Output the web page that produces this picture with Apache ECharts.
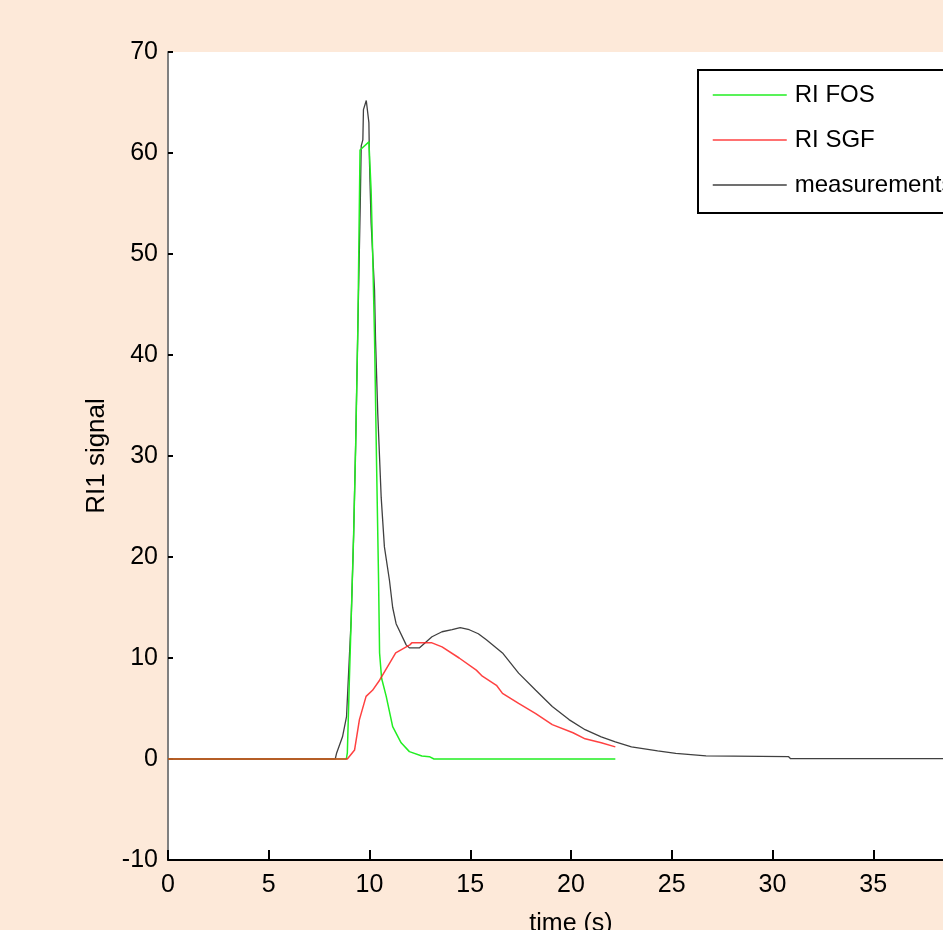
<!DOCTYPE html>
<html>
<head>
<meta charset="utf-8">
<script src="https://cdn.jsdelivr.net/npm/echarts@6/dist/echarts.min.js"></script>
<style>
  html, body { margin: 0; padding: 0; background: #fde9d9; }
  #chart { width: 943px; height: 930px; }
</style>
</head>
<body>
<div id="chart"></div>
<script>
// values
const xTicks = [0, 5, 10, 15, 20, 25, 30, 35, 40];
const yTicks = [-10, 0, 10, 20, 30, 40, 50, 60, 70];

const measTime = [0, 8.3, 8.37, 8.66, 8.86, 9.0, 9.09, 9.21, 9.31, 9.42, 9.54, 9.59, 9.67, 9.7, 9.84, 9.97, 10.0, 10.08, 10.25, 10.3, 10.41, 10.58, 10.74, 10.99, 11.15, 11.32, 11.82, 11.98, 12.47, 13.1, 13.6, 14.1, 14.5, 14.95, 15.4, 15.8, 16.6, 17.4, 18.25, 19.07, 19.9, 20.7, 21.5, 22.2, 23.0, 24.3, 25.2, 26.7, 30.8, 30.9, 38.5];
const measSignal = [0, 0, 0.6, 2.2, 4.2, 10.1, 13.8, 22.0, 30.9, 42.5, 54.7, 60.7, 61.3, 64.3, 65.2, 63.0, 59.0, 53.1, 46.4, 41.5, 34.2, 25.9, 21.0, 17.7, 15.0, 13.4, 11.3, 11.0, 11.0, 12.1, 12.6, 12.8, 13.0, 12.8, 12.4, 11.8, 10.5, 8.5, 6.8, 5.2, 3.9, 2.9, 2.2, 1.7, 1.2, 0.8, 0.56, 0.3, 0.23, 0.03, 0.03];

const fosTime = [0, 8.85, 8.9, 9.0, 9.09, 9.21, 9.31, 9.42, 9.53, 9.97, 10.08, 10.16, 10.25, 10.35, 10.45, 10.5, 10.6, 10.83, 11.15, 11.57, 11.98, 12.6, 12.97, 13.2, 22.2];
const fosSignal = [0, 0, 0.6, 7.8, 13.8, 22.0, 30.7, 42.5, 60.3, 61.1, 56.3, 49.8, 41.7, 29.3, 17.7, 10.5, 8.0, 6.2, 3.2, 1.6, 0.73, 0.3, 0.23, 0.0, 0.0];

const sgfTime = [0, 8.9, 9.26, 9.5, 9.83, 10.15, 10.5, 11.0, 11.3, 12.0, 12.1, 13.1, 13.6, 14.45, 15.3, 15.6, 16.3, 16.6, 17.4, 18.25, 19.07, 20.1, 20.7, 21.5, 22.2];
const sgfSignal = [0, 0, 0.9, 3.9, 6.2, 6.8, 7.8, 9.5, 10.5, 11.3, 11.5, 11.5, 11.1, 10.0, 8.8, 8.2, 7.3, 6.5, 5.5, 4.5, 3.4, 2.6, 2.0, 1.6, 1.2];

const zip = (xs, ys) => xs.map((x, i) => [x, ys[i]]);

const chart = echarts.init(document.getElementById('chart'));
const font = '"Liberation Sans", Arial, sans-serif';

const option = {
  backgroundColor: '#fde9d9',
  animation: false,
  grid: {
    left: 168,
    top: 52,
    bottom: 70,
    right: -31,
    containLabel: false,
    outerBoundsMode: 'none',
    show: true,
    backgroundColor: '#ffffff',
    borderWidth: 0
  },
  legend: {
    orient: 'vertical',
    left: 698,
    top: 70,
    padding: [13, 20, 16, 14],
    itemWidth: 74,
    itemHeight: 24,
    itemGap: 21,
    borderColor: '#000',
    borderWidth: 2,
    backgroundColor: '#fff',
    itemStyle: { opacity: 0 },
    lineStyle: { width: 1.5 },
    textStyle: { fontFamily: font, fontSize: 24, color: '#000', padding: [0, 0, 0, 3] },
    data: ['RI FOS', 'RI SGF', 'measurements']
  },
  xAxis: {
    type: 'value',
    min: xTicks[0],
    max: xTicks[xTicks.length - 1],
    interval: 5,
    name: 'time (s)',
    nameLocation: 'middle',
    nameGap: 52,
    nameTextStyle: { fontFamily: font, fontSize: 25, color: '#000' },
    axisLine: { onZero: false, lineStyle: { color: '#000', width: 2 } },
    axisTick: { inside: true, length: 10, lineStyle: { color: '#000', width: 2 } },
    axisLabel: { fontFamily: font, fontSize: 25, color: '#000', margin: 13,
      formatter: v => xTicks.includes(v) && v < 40 ? String(v) : '' },
    splitLine: { show: false }
  },
  yAxis: {
    type: 'value',
    min: yTicks[0],
    max: yTicks[yTicks.length - 1],
    interval: 10,
    name: 'RI1 signal',
    nameLocation: 'middle',
    nameGap: 58,
    nameRotate: 90,
    nameTextStyle: { fontFamily: font, fontSize: 26, color: '#000' },
    axisLine: { lineStyle: { color: '#808080', width: 2 } },
    axisTick: { inside: true, length: 5, lineStyle: { color: '#000', width: 2 } },
    axisLabel: { fontFamily: font, fontSize: 25, color: '#000', margin: 10 },
    splitLine: { show: false }
  },
  series: [
    {
      name: 'measurements',
      type: 'line',
      symbol: 'none',
      data: zip(measTime, measSignal),
      lineStyle: { color: '#404040', width: 1.3 },
      itemStyle: { color: '#404040' }
    },
    {
      name: 'RI FOS',
      type: 'line',
      symbol: 'none',
      data: zip(fosTime, fosSignal),
      lineStyle: { color: '#22ee22', width: 1.5 },
      itemStyle: { color: '#22ee22' }
    },
    {
      name: 'RI SGF',
      type: 'line',
      symbol: 'none',
      data: zip(sgfTime, sgfSignal),
      lineStyle: { color: '#ff2020', width: 1.5, opacity: 0.85 },
      itemStyle: { color: '#ff2020' }
    }
  ]
};

chart.setOption(option);
</script>
</body>
</html>
